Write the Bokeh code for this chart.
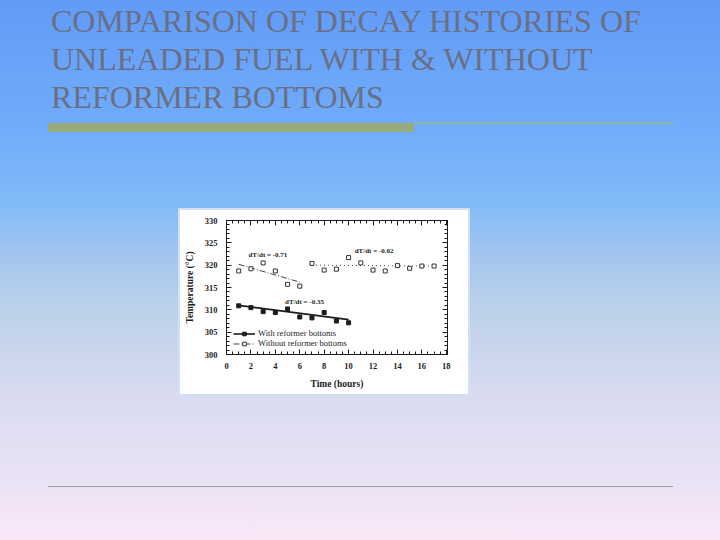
from bokeh.plotting import figure
from bokeh.layouts import column, row
from bokeh.models import Range1d, LinearAxis, Legend, LegendItem, FixedTicker, Div
from bokeh.core.properties import value
from bokeh.embed import file_html
from bokeh.resources import INLINE

# ---------------- data ----------------
title_lines = ["COMPARISON OF DECAY HISTORIES OF",
               "UNLEADED FUEL WITH & WITHOUT",
               "REFORMER BOTTOMS"]

time_with = [1, 2, 3, 4, 5, 6, 7, 8, 9, 10]
temp_with = [310.9, 310.5, 309.6, 309.4, 310.2, 308.4, 308.2, 309.4, 307.5, 307.1]

time_without = [1, 2, 3, 4, 5, 6, 7, 8, 9, 10, 11, 12, 13, 14, 15, 16, 17]
temp_without = [318.7, 319.2, 320.5, 318.7, 315.7, 315.3, 320.4, 318.9, 319.1,
                321.7, 320.5, 318.9, 318.7, 319.9, 319.3, 319.8, 319.8]

fit_with_t = [1, 10]
fit_with_T = [311.0, 307.8]
fit_early_t = [1, 6]
fit_early_T = [320.2, 316.2]
fit_late_t = [7, 17]
fit_late_T = [320.0, 319.8]

slope_labels = ["dT/dt = -0.71", "dT/dt = -0.02", "dT/dt = -0.35"]
slope_x = [1.8, 10.5, 4.8]
slope_y = [322.2, 323.1, 311.7]

x_ticks = [0, 2, 4, 6, 8, 10, 12, 14, 16, 18]
y_ticks = [300, 305, 310, 315, 320, 325, 330]

legend_labels = ["With reformer bottoms", "Without reformer bottoms"]

# ---------------- background gradient helpers ----------------
STOPS_Y = [0, 125, 200, 250, 300, 350, 400, 450, 500, 540]
STOPS_C = [(96, 155, 248), (112, 172, 250), (128, 186, 248), (160, 196, 238),
           (184, 208, 234), (202, 214, 236), (218, 220, 240), (228, 224, 244),
           (240, 228, 246), (250, 232, 248)]


def grad(y):
    for i in range(len(STOPS_Y) - 1):
        if STOPS_Y[i] <= y <= STOPS_Y[i + 1]:
            t = (y - STOPS_Y[i]) / (STOPS_Y[i + 1] - STOPS_Y[i])
            c0, c1 = STOPS_C[i], STOPS_C[i + 1]
            c = [round(c0[k] + (c1[k] - c0[k]) * t) for k in range(3)]
            return "#%02x%02x%02x" % tuple(c)
    return "#%02x%02x%02x" % STOPS_C[-1]


def css_grad(y0, y1):
    ys = [y0] + [s for s in STOPS_Y if y0 < s < y1] + [y1]
    stops = ["%s %.2f%%" % (grad(yy), (yy - y0) / (y1 - y0) * 100) for yy in ys]
    return "linear-gradient(to bottom, %s)" % ", ".join(stops)


PAGE_W, PAGE_H = 720, 540
CH_L, CH_R = 180, 468   # chart image horizontal span
CH_T, CH_B = 210, 394   # chart image vertical span
FRAME_CLR = "#cfe0f8"
SERIF = "Liberation Serif"
TITLE_FAMILY = "'Liberation Serif','Times New Roman',Tinos,'DejaVu Serif',serif"


def box(x, y, w, h, color, y_off):
    return ('<div style="position:absolute;left:%dpx;top:%.1fpx;width:%dpx;'
            'height:%.1fpx;background:%s"></div>' % (x, y - y_off, w, h, color))


def panel(y0, y1, inner):
    html = ('<div style="position:relative;width:%dpx;height:%dpx;overflow:hidden;'
            'background:%s">%s</div>' % (PAGE_W, y1 - y0, css_grad(y0, y1), inner))
    return Div(text=html, width=PAGE_W, height=y1 - y0, margin=0,
               styles={"padding": "0px", "margin": "0px"})


def side_div(w, edge_side):
    h = CH_B - CH_T
    bg = css_grad(CH_T, CH_B)
    direction = "to left" if edge_side == "right" else "to right"
    edge = "linear-gradient(%s, %s 0px, %s 2px, transparent 2px)" % (direction, FRAME_CLR, FRAME_CLR)
    return Div(text="", width=w, height=h, margin=0,
               styles={"background": edge + ", " + bg, "padding": "0px",
                       "margin": "0px"})


# top part (title + rule)
parts = []
for i, line in enumerate(title_lines):
    baseline = [32, 70, 108][i]
    parts.append('<div style="position:absolute;left:51px;top:%.1fpx;'
                 'white-space:nowrap;font-family:%s;'
                 'font-size:32px;line-height:32px;color:#6b6f84">%s</div>'
                 % (baseline - 26.8, TITLE_FAMILY, line.replace("&", "&amp;")))
parts.append(box(414, 122, 259, 1.5, "#90b4a4", 0))
parts.append(box(48, 123, 366, 9, "#98ab7c", 0))
parts.append(box(178, 208, 292, 2, FRAME_CLR, 0))
top = panel(0, CH_T, "".join(parts))

left = side_div(CH_L, "right")
right = side_div(PAGE_W - CH_R, "left")

bparts = [box(178, CH_B, 292, 2, FRAME_CLR, CH_B),
          box(48, 485.5, 625, 1.5, "#a0a0a8", CH_B)]
bottom = panel(CH_B, PAGE_H, "".join(bparts))

# ---------------- chart ----------------
INK = "#1c1c1c"
p = figure(width=CH_R - CH_L, height=CH_B - CH_T,
           x_range=Range1d(0, 18.1), y_range=Range1d(300, 330),
           output_backend="svg", toolbar_location=None,
           min_border_left=46, min_border_right=21,
           min_border_top=10, min_border_bottom=40)
p.background_fill_color = "white"
p.border_fill_color = "white"
p.grid.visible = False
p.outline_line_color = INK
p.outline_line_width = 1

x_minor = [i * 0.5 for i in range(37)]
y_minor = list(range(300, 331))
p.below[0].ticker = FixedTicker(ticks=x_ticks, minor_ticks=x_minor)
p.left[0].ticker = FixedTicker(ticks=y_ticks, minor_ticks=y_minor)

top_axis = LinearAxis(ticker=FixedTicker(ticks=x_ticks, minor_ticks=x_minor),
                      major_label_overrides={t: "" for t in x_ticks})
right_axis = LinearAxis(ticker=FixedTicker(ticks=y_ticks, minor_ticks=y_minor),
                        major_label_overrides={t: "" for t in y_ticks})
p.add_layout(top_axis, "above")
p.add_layout(right_axis, "right")

for ax in p.axis:
    ax.axis_line_color = INK
    ax.major_tick_line_color = INK
    ax.minor_tick_line_color = INK
    ax.major_tick_in = 5
    ax.major_tick_out = 0
    ax.minor_tick_in = 3
    ax.minor_tick_out = 0
    ax.major_label_text_font = SERIF
    ax.major_label_text_font_style = "bold"
    ax.major_label_text_font_size = "8.5px"
    ax.major_label_text_color = INK
    ax.axis_label_text_font = SERIF
    ax.axis_label_text_font_style = "bold"
    ax.axis_label_text_font_size = "9.5px"
    ax.axis_label_text_color = INK

top_axis.major_label_standoff = 0
right_axis.major_label_standoff = 0

xa = p.below[0]
ya = p.left[0]
xa.major_label_standoff = 8
xa.axis_label = "Time (hours)"
xa.axis_label_standoff = 7
ya.major_label_standoff = 9
ya.axis_label = "Temperature (\u00b0C)"
ya.axis_label_standoff = 7

# fit lines
l_with = p.line(fit_with_t, fit_with_T, line_color=INK, line_width=1.6)
l_early = p.line(fit_early_t, fit_early_T, line_color="#444444", line_width=1,
                 line_dash="6 2 1 2")
p.line(fit_late_t, fit_late_T, line_color="#444444", line_width=1, line_dash="1 3")

# data points
s_with = p.scatter(time_with, temp_with, marker="square", size=4,
                   fill_color=INK, line_color=INK)
s_without = p.scatter(time_without, temp_without, marker="square", size=4,
                      fill_color="white", line_color="#333333", line_width=1)

p.text(x=slope_x, y=slope_y, text=slope_labels, text_font=value(SERIF),
       text_font_size="7px", text_font_style="bold", text_color=INK,
       text_baseline="middle", text_align="left")

legend = Legend(items=[LegendItem(label=legend_labels[0], renderers=[l_with, s_with]),
                       LegendItem(label=legend_labels[1], renderers=[l_early, s_without])],
                location=(7, 6), orientation="vertical")
legend.background_fill_alpha = 0
legend.border_line_color = None
legend.label_text_font = SERIF
legend.label_text_font_size = "8.5px"
legend.label_text_color = INK
legend.label_height = 9
legend.glyph_height = 9
legend.glyph_width = 22
legend.label_standoff = 3
legend.padding = 0
legend.spacing = 0
legend.margin = 0
p.add_layout(legend)

page = column(top, row(left, p, right, spacing=0), bottom, spacing=0)

open("out.html", "w").write(file_html(page, INLINE))
